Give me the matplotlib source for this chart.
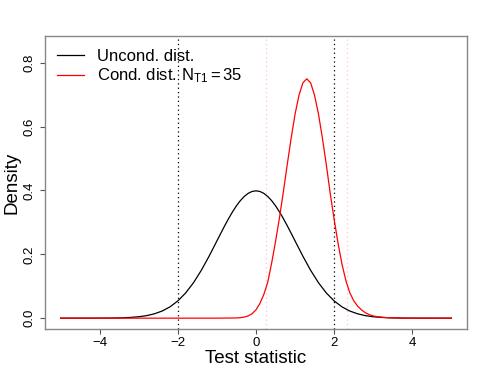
import matplotlib
matplotlib.use("Agg")
import matplotlib.pyplot as plt

plt.rcParams['font.family'] = ['Liberation Sans', 'DejaVu Sans']
plt.rcParams['mathtext.fontset'] = 'custom'
plt.rcParams['mathtext.rm'] = 'Liberation Sans'
plt.rcParams['mathtext.it'] = 'Liberation Sans'

# Unconditional distribution
uncond_x = [-5.0, -4.6, -4.2, -4.0, -3.8, -3.6, -3.4, -3.2, -3.0, -2.8, -2.6, -2.4, -2.2, -2.0,
            -1.8, -1.6, -1.4, -1.2, -1.0, -0.9, -0.8, -0.7, -0.6, -0.5, -0.4, -0.3, -0.2,
            -0.1, 0.0, 0.1, 0.2, 0.3, 0.4, 0.5, 0.6, 0.7, 0.8, 0.9, 1.0, 1.2, 1.4, 1.6,
            1.8, 2.0, 2.2, 2.4, 2.6, 2.8, 3.0, 3.2, 3.4, 3.6, 3.8, 4.0, 4.2, 4.6, 5.0]
uncond_y = [0.0, 0.0, 0.0001, 0.0001, 0.0003, 0.0006, 0.0012, 0.0024, 0.0044, 0.0079, 0.0136,
            0.0224, 0.0355, 0.0540, 0.0790, 0.1109, 0.1497, 0.1942, 0.2420, 0.2661, 0.2897,
            0.3123, 0.3332, 0.3521, 0.3683, 0.3814, 0.3910, 0.3970, 0.3989,
            0.3970, 0.3910, 0.3814, 0.3683, 0.3521, 0.3332, 0.3123, 0.2897, 0.2661, 0.2420,
            0.1942, 0.1497, 0.1109, 0.0790, 0.0540, 0.0355, 0.0224, 0.0136, 0.0079, 0.0044,
            0.0024, 0.0012, 0.0006, 0.0003, 0.0001, 0.0001, 0.0, 0.0]

# Conditional distribution, N_T1 = 35
cond_x = [-5.0, -3.0, -1.0, -0.5, -0.4, -0.3, -0.2, -0.1, 0.0, 0.1, 0.2, 0.3, 0.4, 0.5, 0.6,
          0.7, 0.8, 0.9, 1.0, 1.1, 1.2, 1.3, 1.4, 1.5, 1.6, 1.7, 1.8, 1.9, 2.0, 2.1, 2.2,
          2.3, 2.4, 2.5, 2.6, 2.7, 2.8, 2.9, 3.0, 3.1, 3.3, 3.5, 3.8, 4.5, 5.0]
cond_y = [0.0, 0.0, 0.0, 0.0006, 0.0015, 0.0035, 0.007, 0.014, 0.026, 0.046, 0.074, 0.112,
          0.172, 0.240, 0.314, 0.395, 0.481, 0.564, 0.639, 0.698, 0.737, 0.750, 0.737,
          0.698, 0.639, 0.564, 0.481, 0.391, 0.310, 0.235, 0.170, 0.118, 0.080, 0.055,
          0.038, 0.026, 0.017, 0.011, 0.007, 0.0045, 0.002, 0.001, 0.0, 0.0, 0.0]

crit_uncond = [-2.0, 2.0]
crit_cond = [0.26, 2.34]
xticks = [-4, -2, 0, 2, 4]
yticks = [0.0, 0.2, 0.4, 0.6, 0.8]

fig = plt.figure(figsize=(4.85, 3.74), dpi=100)
ax = fig.add_axes([0.0928, 0.1203, 0.870, 0.7834])

for xv in crit_uncond:
    ax.axvline(xv, color='black', lw=0.9, ls=(0, (1, 2.5)))
for xv in crit_cond:
    ax.axvline(xv, color='#ffc0cb', lw=0.9, ls=(0, (1, 2.5)))

ax.plot(uncond_x, uncond_y, color='black', lw=0.9, label='Uncond. dist.')
ax.plot(cond_x, cond_y, color='red', lw=0.9, label=r'Cond. dist. $\mathrm{N_{T1}} = 35$')

ax.set_xlim(-5.4, 5.4)
ax.set_ylim(-0.034, 0.884)
ax.set_xticks(xticks)
ax.set_xticklabels(['\u2212' + str(-t) if t < 0 else str(t) for t in xticks])
ax.set_yticks(yticks)
ax.set_yticklabels(['%.1f' % t for t in yticks], rotation=90, va='center')
ax.tick_params(axis='both', direction='out', length=3.5, width=0.8, color='#555555',
               labelsize=9.5)
ax.tick_params(axis='x', pad=2.5)
ax.tick_params(axis='y', pad=3.5)
for s in ax.spines.values():
    s.set_color('#888888')
    s.set_linewidth(1.0)

ax.set_xlabel('Test statistic', fontsize=13.5)
ax.xaxis.set_label_coords(0.5, -0.116)
ax.xaxis.label.set_va('baseline')
ax.set_ylabel('Density', fontsize=13.5)
ax.yaxis.set_label_coords(-0.078, 0.5)
ax.yaxis.label.set_va('center')

ax.legend(loc='upper left', frameon=False, fontsize=12, handlelength=1.6,
          handletextpad=0.8, borderaxespad=0.0, borderpad=0.0, labelspacing=0.13,
          bbox_to_anchor=(12 / 422, 0.955))

fig.savefig('out.png', dpi=100)
